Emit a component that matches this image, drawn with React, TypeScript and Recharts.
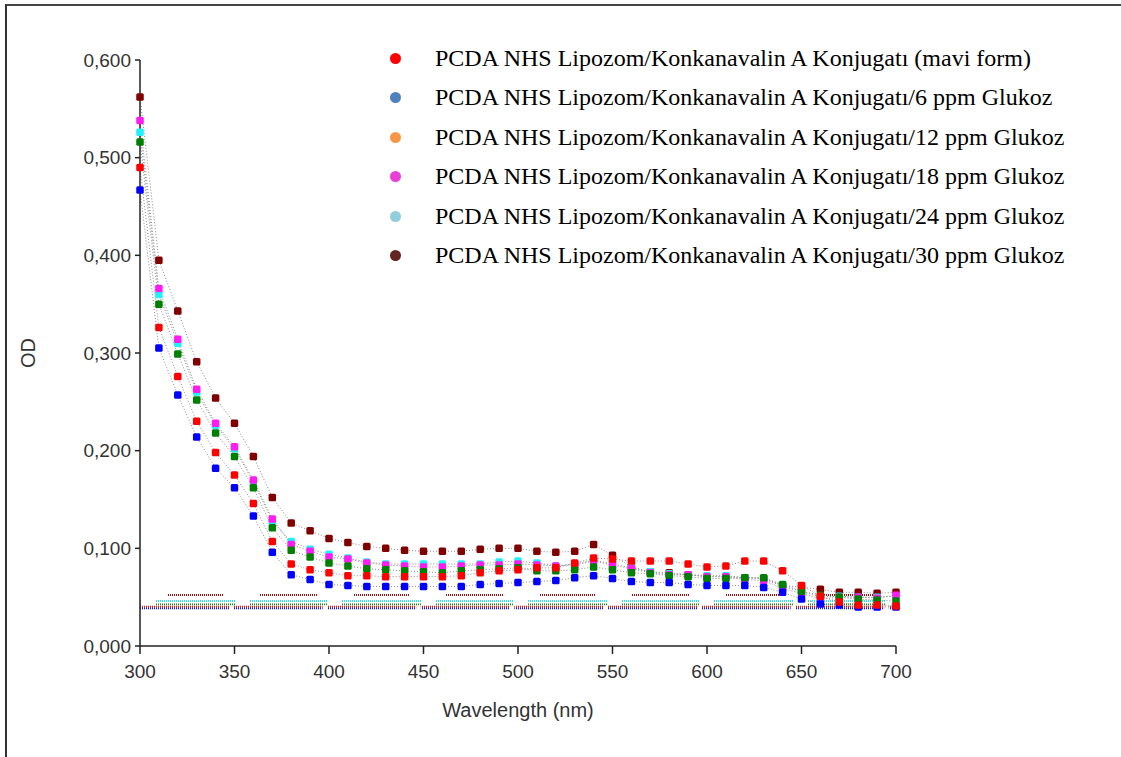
import { Legend, Line, LineChart, ReferenceLine, XAxis, YAxis } from 'recharts';

// Absorbance spectra of PCDA NHS liposome / Concanavalin A conjugate with glucose.

const wavelengths = [
  300, 310, 320, 330, 340, 350, 360, 370, 380, 390, 400, 410, 420, 430, 440, 450, 460, 470, 480, 490,
  500, 510, 520, 530, 540, 550, 560, 570, 580, 590, 600, 610, 620, 630, 640, 650, 660, 670, 680, 690,
  700,
];

const maviForm = [
  0.49, 0.326, 0.276, 0.23, 0.198, 0.175, 0.146, 0.107, 0.084, 0.078, 0.075, 0.072, 0.072, 0.071,
  0.071, 0.071, 0.071, 0.072, 0.075, 0.077, 0.078, 0.08, 0.08, 0.085, 0.09, 0.089, 0.087, 0.087, 0.087,
  0.084, 0.081, 0.082, 0.087, 0.087, 0.077, 0.062, 0.051, 0.045, 0.042, 0.042, 0.041,
];

const glukoz6 = [
  0.467, 0.305, 0.257, 0.214, 0.182, 0.162, 0.133, 0.096, 0.073, 0.068, 0.063, 0.062, 0.061, 0.061,
  0.061, 0.061, 0.061, 0.061, 0.063, 0.064, 0.065, 0.066, 0.067, 0.07, 0.072, 0.069, 0.066, 0.065,
  0.065, 0.063, 0.062, 0.062, 0.062, 0.06, 0.055, 0.048, 0.043, 0.042, 0.04, 0.04, 0.04,
];

const glukoz12 = [
  0.516, 0.35, 0.299, 0.252, 0.218, 0.194, 0.162, 0.121, 0.098, 0.091, 0.085, 0.082, 0.079, 0.078,
  0.077, 0.076, 0.075, 0.077, 0.078, 0.079, 0.08, 0.077, 0.077, 0.078, 0.081, 0.078, 0.075, 0.074,
  0.072, 0.071, 0.069, 0.069, 0.07, 0.07, 0.063, 0.056, 0.052, 0.05, 0.048, 0.047, 0.046,
];

const glukoz18 = [
  0.538, 0.366, 0.314, 0.263, 0.228, 0.204, 0.17, 0.13, 0.104, 0.097, 0.091, 0.089, 0.085, 0.083,
  0.082, 0.081, 0.081, 0.082, 0.083, 0.083, 0.084, 0.083, 0.082, 0.083, 0.087, 0.083, 0.079, 0.075,
  0.073, 0.073, 0.071, 0.071, 0.068, 0.067, 0.059, 0.054, 0.048, 0.05, 0.05, 0.049, 0.052,
];

const glukoz24 = [
  0.526, 0.36, 0.31, 0.26, 0.226, 0.202, 0.168, 0.128, 0.107, 0.099, 0.094, 0.09, 0.086, 0.084,
  0.084, 0.084, 0.084, 0.084, 0.084, 0.086, 0.087, 0.085, 0.082, 0.084, 0.088, 0.084, 0.08, 0.076,
  0.074, 0.073, 0.072, 0.072, 0.07, 0.069, 0.061, 0.056, 0.05, 0.051, 0.05, 0.05, 0.051,
];

const glukoz30 = [
  0.562, 0.395, 0.343, 0.291, 0.254, 0.228, 0.194, 0.152, 0.126, 0.118, 0.11, 0.106, 0.102, 0.1,
  0.098, 0.097, 0.097, 0.097, 0.099, 0.1, 0.1, 0.097, 0.096, 0.097, 0.104, 0.093, 0.081, 0.076, 0.075,
  0.073, 0.071, 0.071, 0.07, 0.069, 0.062, 0.06, 0.058, 0.055, 0.055, 0.054, 0.055,
];

// dotted baselines drawn near the bottom of the plot
const baselineLevels = [0.0522, 0.0461, 0.0427, 0.0402, 0.0386];

const xTicks = [300, 350, 400, 450, 500, 550, 600, 650, 700];
const yTicks = [0, 0.1, 0.2, 0.3, 0.4, 0.5, 0.6];

const legendLabels = [
  'PCDA NHS Lipozom/Konkanavalin A Konjugatı (mavi form)',
  'PCDA NHS Lipozom/Konkanavalin A Konjugatı/6 ppm Glukoz',
  'PCDA NHS Lipozom/Konkanavalin A Konjugatı/12 ppm Glukoz',
  'PCDA NHS Lipozom/Konkanavalin A Konjugatı/18 ppm Glukoz',
  'PCDA NHS Lipozom/Konkanavalin A Konjugatı/24 ppm Glukoz',
  'PCDA NHS Lipozom/Konkanavalin A Konjugatı/30 ppm Glukoz',
];
const legendColors = ['#ff0000', '#4f81bd', '#f79646', '#e83fd6', '#92cddc', '#632523'];

const data = wavelengths.map((wl, i) => ({
  wl,
  mavi: maviForm[i],
  g6: glukoz6[i],
  g12: glukoz12[i],
  g18: glukoz18[i],
  g24: glukoz24[i],
  g30: glukoz30[i],
}));

// drawing order: last one ends up on top
const series = [
  { key: 'g30', color: '#800000' },
  { key: 'g24', color: '#22f0f8' },
  { key: 'g18', color: '#ff1cf0' },
  { key: 'g12', color: '#008000' },
  { key: 'g6', color: '#0000ff' },
  { key: 'mavi', color: '#ff0000' },
];

const baselineStyles = [
  { id: 'dotMaroon', color: '#a01010', dash: '57 36', offset: 66 },
  { id: 'dotCyan', color: '#20e8f4', dash: '79 14', offset: 77 },
  { id: 'dotGreen', color: '#1a8a1a', dash: '79 14', offset: 77 },
  { id: 'dotRed', color: '#ff1010', dash: '89 4.6', offset: 0 },
  { id: 'dotBlue', color: '#1010ff', dash: '89 4.6', offset: 0 },
];

const sansFont = '"Liberation Sans", Arial, sans-serif';
const tickStyle = { fontSize: 19, fill: '#333', fontFamily: sansFont };

function squareDot(color: string) {
  return (props: any) => {
    const { cx, cy, index } = props;
    if (cx == null || cy == null) return <g key={index} />;
    return <rect key={index} x={cx - 3.75} y={cy - 3.75} width={7.5} height={7.5} rx={1.5} fill={color} />;
  };
}

function formatOd(v: number): string {
  return v.toFixed(3).replace('.', ',');
}

function LegendBox() {
  return (
    <div style={{ fontFamily: '"Liberation Serif", "Times New Roman", serif', fontSize: 24, color: '#000' }}>
      {legendLabels.map((label, i) => (
        <div key={label} style={{ display: 'flex', alignItems: 'center', height: 39.5, whiteSpace: 'nowrap' }}>
          <span
            style={{
              display: 'inline-block',
              width: 11,
              height: 11,
              borderRadius: '50%',
              background: legendColors[i],
              marginRight: 34.5,
            }}
          />
          <span>{label}</span>
        </div>
      ))}
    </div>
  );
}

export default function App() {
  return (
    <div style={{ position: 'relative', width: 1121, height: 757, overflow: 'hidden', background: '#fff' }}>
      <style>{'html,body{margin:0;overflow:hidden;background:#fff}'}</style>
      <div
        style={{
          position: 'absolute',
          left: 5,
          top: 4,
          width: 1200,
          height: 900,
          borderTop: '2px solid #444',
          borderLeft: '2px solid #333',
        }}
      />
      <div style={{ position: 'absolute', left: 0, top: 0 }}>
        <LineChart width={1121} height={757} data={data} margin={{ top: 60, right: 225, bottom: 81, left: 80 }}>
          <defs>
            {baselineStyles.map((b) => (
              <pattern key={b.id} id={b.id} patternUnits="userSpaceOnUse" x={0} y={0} width={2} height={800}>
                <rect x={0} y={0} width={1} height={800} fill={b.color} />
              </pattern>
            ))}
          </defs>
          <XAxis
            dataKey="wl"
            type="number"
            domain={[300, 700]}
            ticks={xTicks}
            height={30}
            tickSize={8}
            tickMargin={11}
            tick={tickStyle}
            axisLine={{ stroke: '#222', strokeWidth: 1.5 }}
            tickLine={{ stroke: '#222', strokeWidth: 1.5 }}
            label={(props: any) => {
              const vb = props.viewBox;
              return (
                <text
                  x={vb.x + vb.width / 2}
                  y={vb.y + 71}
                  textAnchor="middle"
                  fontSize={20}
                  fontFamily={sansFont}
                  fill="#333"
                >
                  Wavelength (nm)
                </text>
              );
            }}
          />
          <YAxis
            type="number"
            domain={[0, 0.6]}
            ticks={yTicks}
            width={60}
            tickSize={5}
            tickMargin={4}
            tick={tickStyle}
            tickFormatter={formatOd}
            axisLine={{ stroke: '#222', strokeWidth: 1.5 }}
            tickLine={{ stroke: '#222', strokeWidth: 1.5 }}
            label={(props: any) => {
              const vb = props.viewBox;
              const x = vb.x - 45;
              const y = vb.y + vb.height / 2;
              return (
                <text
                  x={x}
                  y={y}
                  transform={`rotate(-90, ${x}, ${y})`}
                  textAnchor="middle"
                  fontSize={20}
                  fontFamily={sansFont}
                  fill="#333"
                >
                  OD
                </text>
              );
            }}
          />
          {baselineLevels.map((level, i) => (
            <ReferenceLine
              key={`base-${i}`}
              y={level}
              stroke={`url(#${baselineStyles[i].id})`}
              strokeWidth={1.8}
              strokeDasharray={baselineStyles[i].dash}
              strokeDashoffset={baselineStyles[i].offset}
            />
          ))}
          {series.map((s) => (
            <Line
              key={s.key}
              type="linear"
              dataKey={s.key}
              stroke="#8a8a8a"
              strokeWidth={1}
              strokeDasharray="1 2"
              dot={squareDot(s.color)}
              activeDot={false}
              isAnimationActive={false}
            />
          ))}
          <Legend
            layout="vertical"
            align="center"
            verticalAlign="middle"
            content={() => <LegendBox />}
            wrapperStyle={{ left: 389.5, top: 38.5, width: 720, height: 240 }}
          />
        </LineChart>
      </div>
    </div>
  );
}
